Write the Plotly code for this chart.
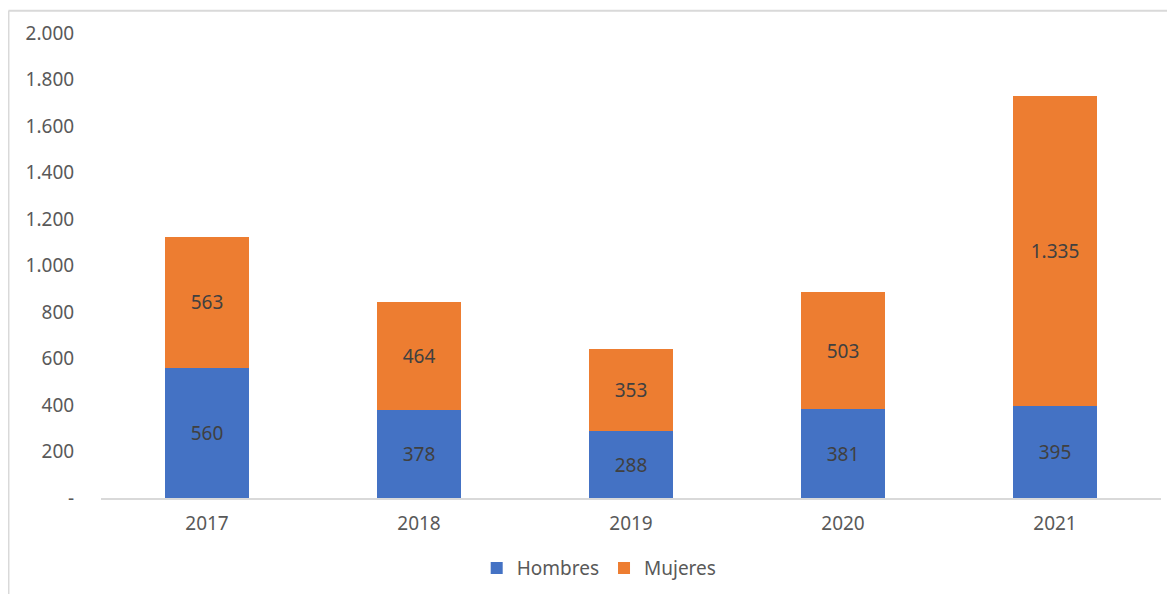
import plotly.graph_objects as go

years = ["2017", "2018", "2019", "2020", "2021"]
hombres = [560, 378, 288, 381, 395]
mujeres = [563, 464, 353, 503, 1335]

tick_vals = [0, 200, 400, 600, 800, 1000, 1200, 1400, 1600, 1800, 2000]
tick_text = ["-", "200", "400", "600", "800", "1.000", "1.200", "1.400", "1.600", "1.800", "2.000"]

FONT = "'Noto Sans', 'Open Sans', sans-serif"
GREY = "#d9d9d9"
SIZE = 19

fig = go.Figure()
for name, values, color in [
    ("Hombres", hombres, "#4472C4"),
    ("Mujeres", mujeres, "#ED7D31"),
]:
    fig.add_trace(
        go.Bar(
            x=years,
            y=values,
            name=name,
            marker={"color": color, "line": {"width": 0}},
            texttemplate="%{y:,.0f}",
            textposition="inside",
            insidetextanchor="middle",
            textangle=0,
            constraintext="none",
            insidetextfont={"family": FONT, "size": SIZE, "color": "#404040"},
        )
    )

# chart frame (left and top edges of the cropped Excel chart area)
fig.add_shape(type="line", xref="paper", yref="paper",
              x0=-0.0873, x1=-0.0873, y0=1.048, y1=-0.25,
              line={"color": GREY, "width": 2})
fig.add_shape(type="line", xref="paper", yref="paper",
              x0=-0.0873, x1=1.05, y0=1.048, y1=1.048,
              line={"color": GREY, "width": 2})

fig.update_layout(
    width=1175,
    height=594,
    barmode="stack",
    bargap=0.6,
    separators=",.",
    paper_bgcolor="white",
    plot_bgcolor="white",
    # page body adds an 8px offset, so margins are shifted to compensate
    margin={"l": 93, "r": 22, "t": 23, "b": 104},
    font={"family": FONT, "size": SIZE, "color": "#595959"},
    xaxis={
        "showgrid": False,
        "showline": True,
        "linecolor": GREY,
        "linewidth": 1.5,
        "ticks": "outside",
        "ticklen": 7,
        "tickcolor": "rgba(0,0,0,0)",
        "tickfont": {"size": SIZE, "color": "#595959"},
    },
    yaxis={
        "range": [0, 2000],
        "tickvals": tick_vals,
        "ticktext": tick_text,
        "showgrid": False,
        "zeroline": False,
        "showline": False,
        "ticks": "outside",
        "ticklen": 22,
        "tickcolor": "rgba(0,0,0,0)",
        "tickfont": {"size": SIZE, "color": "#595959"},
    },
    legend={
        "orientation": "h",
        "traceorder": "normal",
        "x": 0.47,
        "xanchor": "center",
        "y": -0.11,
        "yanchor": "top",
        "font": {"size": SIZE, "color": "#595959"},
        "itemwidth": 30,
    },
)

fig.write_html("out.html")
